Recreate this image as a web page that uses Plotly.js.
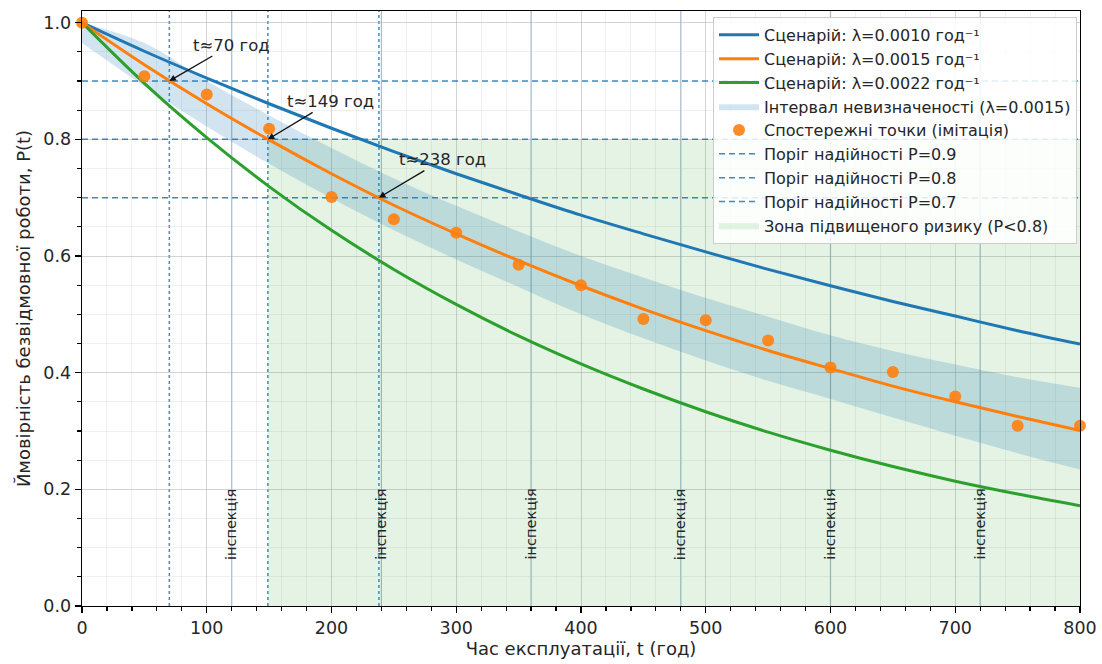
<!DOCTYPE html>
<html>
<head>
<meta charset="utf-8">
<script src="https://cdn.plot.ly/plotly-3.0.1.min.js"></script>
<style>html,body{margin:0;padding:0;background:#fff;}#chart{width:1102px;height:664px;}</style>
</head>
<body>
<div id="chart"></div>
<script>
// Time grid (hours)
const tHours = [0,50,100,150,200,250,300,350,400,450,500,550,600,650,700,750,800];
// Scenario curves
const pLambda0010 = [1.000,0.951,0.905,0.861,0.819,0.779,0.741,0.705,0.670,0.638,0.607,0.577,0.549,0.522,0.497,0.472,0.449];
const pLambda0015 = [1.000,0.928,0.861,0.799,0.741,0.687,0.638,0.592,0.549,0.509,0.472,0.438,0.407,0.377,0.350,0.325,0.301];
const pLambda0022 = [1.000,0.896,0.803,0.719,0.644,0.577,0.517,0.463,0.415,0.372,0.333,0.298,0.267,0.239,0.214,0.192,0.172];
// Uncertainty band (λ=0.0015)
const bandUpper = [1.000,0.965,0.900,0.841,0.785,0.733,0.686,0.642,0.600,0.563,0.528,0.496,0.464,0.437,0.414,0.392,0.374];
const bandLower = [0.965,0.891,0.822,0.758,0.699,0.644,0.594,0.547,0.500,0.459,0.421,0.386,0.355,0.323,0.292,0.262,0.234];
// Observed points (imitation)
const obsT = [0,50,100,150,200,250,300,350,400,450,500,550,600,650,700,750,800];
const obsP = [1.000,0.908,0.877,0.818,0.701,0.663,0.640,0.585,0.550,0.492,0.490,0.455,0.409,0.401,0.359,0.309,0.309];
// Thresholds and crossings
const thresholds = [0.9,0.8,0.7];
const crossT = [70,149,238];
const crossLabels = ["t≈70 год","t≈149 год","t≈238 год"];
// Inspections
const inspectionT = [120,240,360,480,600,720];
const inspectionLabel = "інспекція";
// Risk zone
const riskStart = 149, riskEnd = 800, riskLevel = 0.8;

const FONT = "DejaVu Sans, sans-serif";
const BLUE = "#1f77b4", ORANGE = "#ff7f0e", GREEN = "#2ca02c";
const TXT = "#262626";

const data = [];
// risk zone (bottom)
data.push({
  x:[riskStart,riskEnd,riskEnd,riskStart,riskStart], y:[0,0,riskLevel,riskLevel,0],
  type:"scatter", mode:"lines", fill:"toself", fillcolor:"rgba(44,160,44,0.13)",
  line:{width:0,color:"rgba(44,160,44,0)"}, name:"Зона підвищеного ризику (P<0.8)",
  legendrank:9, hoverinfo:"skip"
});
// band
data.push({x:tHours, y:bandLower, type:"scatter", mode:"lines", line:{width:0,shape:"spline",color:"rgba(0,0,0,0)"}, showlegend:false, hoverinfo:"skip"});
data.push({x:tHours, y:bandUpper, type:"scatter", mode:"lines", fill:"tonexty", fillcolor:"rgba(31,119,180,0.2)",
  line:{width:0,shape:"spline",color:"rgba(0,0,0,0)"}, name:"Інтервал невизначеності (λ=0.0015)", legendrank:4, hoverinfo:"skip"});
// thresholds
thresholds.forEach((p,i)=>{
  data.push({x:[0,800], y:[p,p], type:"scatter", mode:"lines",
    line:{color:"rgba(31,119,180,0.85)", width:1.5, dash:"6px,4px"},
    name:"Поріг надійності P="+p, legendrank:6+i});
});
// curves
data.push({x:tHours, y:pLambda0010, type:"scatter", mode:"lines", line:{color:BLUE,width:3,shape:"spline"}, name:"Сценарій: λ=0.0010 год⁻¹", legendrank:1});
data.push({x:tHours, y:pLambda0015, type:"scatter", mode:"lines", line:{color:ORANGE,width:3,shape:"spline"}, name:"Сценарій: λ=0.0015 год⁻¹", legendrank:2});
data.push({x:tHours, y:pLambda0022, type:"scatter", mode:"lines", line:{color:GREEN,width:3,shape:"spline"}, name:"Сценарій: λ=0.0022 год⁻¹", legendrank:3});
// observations
data.push({x:obsT, y:obsP, type:"scatter", mode:"markers", marker:{color:ORANGE,size:12,opacity:0.9}, name:"Спостережні точки (імітація)", legendrank:5, cliponaxis:false});

const shapes = [];
inspectionT.forEach(t=>{
  shapes.push({type:"line", xref:"x", yref:"paper", x0:t, x1:t, y0:0, y1:1, layer:"below",
    line:{color:"rgba(70,130,180,0.55)", width:1.2}});
});
crossT.forEach(t=>{
  shapes.push({type:"line", xref:"x", yref:"paper", x0:t, x1:t, y0:0, y1:1, layer:"below",
    line:{color:"rgba(31,119,180,0.85)", width:1.5, dash:"dot"}});
});

const annotations = [];
inspectionT.forEach(t=>{
  annotations.push({x:t, y:0.14, xref:"x", yref:"y", text:inspectionLabel, showarrow:false,
    textangle:-90, font:{family:FONT,size:14.5,color:TXT}, xanchor:"center", yanchor:"middle"});
});
const offs = [[62,-36],[63,-38],[64,-38]];
crossT.forEach((t,i)=>{
  annotations.push({x:t, y:thresholds[i], xref:"x", yref:"y", text:crossLabels[i], showarrow:true,
    ax:offs[i][0], ay:offs[i][1], arrowhead:2, arrowsize:1, arrowwidth:1.3, arrowcolor:"#111",
    font:{family:FONT,size:16.5,color:TXT}});
});

const layout = {
  width:1102, height:664,
  margin:{l:82, r:22, t:11, b:58},
  paper_bgcolor:"#fff", plot_bgcolor:"#fff",
  font:{family:FONT, size:17.5, color:TXT},
  showlegend:true,
  legend:{x:0.997, y:0.99, xanchor:"right", yanchor:"top", bgcolor:"rgba(255,255,255,0.85)",
    bordercolor:"#cccccc", borderwidth:1, font:{family:FONT,size:16,color:TXT}, traceorder:"normal", itemwidth:40},
  xaxis:{range:[0,800], dtick:100, tick0:0, ticks:"outside", ticklen:6, tickwidth:1.2, tickcolor:"#000",
    showline:true, linecolor:"#000", linewidth:1.3, mirror:true, zeroline:false,
    showgrid:true, gridcolor:"rgba(176,176,176,0.55)", gridwidth:1,
    minor:{dtick:20, ticks:"outside", ticklen:3.5, tickcolor:"#000", showgrid:true, gridcolor:"rgba(200,200,200,0.35)", gridwidth:0.8},
    tickfont:{family:FONT,size:17.5,color:TXT},
    title:{text:"Час експлуатації, t (год)", font:{family:FONT,size:18,color:TXT}, standoff:4}},
  yaxis:{range:[0,1.02], dtick:0.2, tick0:0, tickformat:".1f", ticks:"outside", ticklen:6, tickwidth:1.2, tickcolor:"#000",
    showline:true, linecolor:"#000", linewidth:1.3, mirror:true, zeroline:false,
    showgrid:true, gridcolor:"rgba(176,176,176,0.55)", gridwidth:1,
    minor:{dtick:0.05, ticks:"outside", ticklen:3.5, tickcolor:"#000", showgrid:true, gridcolor:"rgba(200,200,200,0.35)", gridwidth:0.8},
    tickfont:{family:FONT,size:17.5,color:TXT},
    title:{text:"Ймовірність безвідмовної роботи, P(t)", font:{family:FONT,size:18,color:TXT}, standoff:8}},
  shapes:shapes, annotations:annotations
};

Plotly.newPlot("chart", data, layout, {staticPlot:true, displayModeBar:false});
</script>
</body>
</html>
